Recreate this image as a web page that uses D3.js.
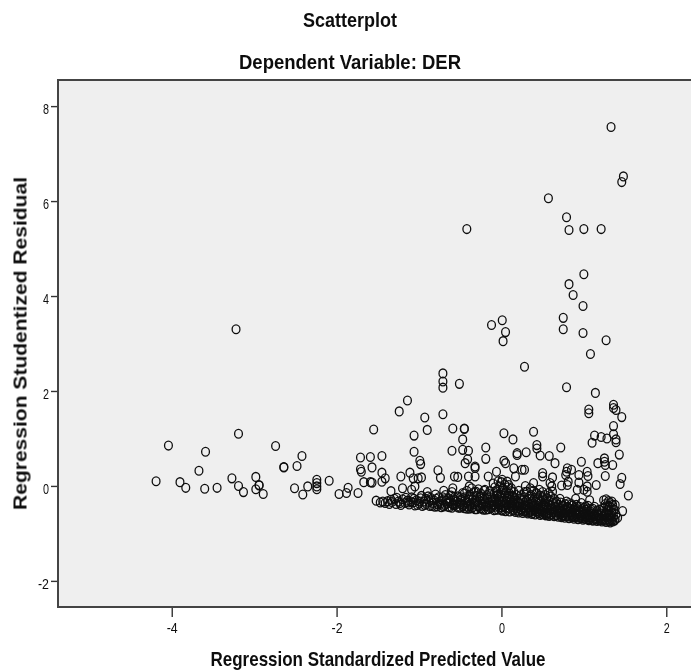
<!DOCTYPE html>
<html>
<head>
<meta charset="utf-8">
<script src="https://cdn.jsdelivr.net/npm/d3@7"></script>
<style>
  html, body { margin: 0; padding: 0; background: #fff; }
  svg { display: block; }
  text { font-family: "Liberation Sans", Arial, sans-serif; fill: #111; }
</style>
</head>
<body>
<div class="container"></div>
<script>
const width = 691;
const height = 672;

const chartTitle = 'Scatterplot';
const chartSubtitle = 'Dependent Variable: DER';
const xLabel = 'Regression Standardized Predicted Value';
const yLabel = 'Regression Studentized Residual';
const xTicks = [-4, -2, 0, 2];
const yTicks = [-2, 0, 2, 4, 6, 8];

// [predicted, residual]
const upperPoints = [
  [1.33,7.56],[1.48,6.52],[1.46,6.40],[.57,6.06],[.79,5.66],[.82,5.39],[1.00,5.41],[1.21,5.41],[-.42,5.41],
  [1.00,4.46],[.82,4.25],[.87,4.02],[.99,3.79],[.75,3.54],[.75,3.30],[.99,3.22],[1.27,3.07],[1.08,2.78],
  [.01,3.49],[-.12,3.39],[.05,3.24],[.02,3.05],[.28,2.51],[-.71,2.37],[-.71,2.20],[-.71,2.07],[-.51,2.15],
  [.79,2.08],[1.14,1.96],[-1.14,1.80],[-1.24,1.57],[-.93,1.44],[-.71,1.51],[1.06,1.61],[1.06,1.53],
  [1.36,1.71],[1.36,1.64],[1.39,1.60],[1.46,1.45]
];

const leftPoints = [
  [-3.22,3.30],[-3.19,1.10],[-4.04,.85],[-3.59,.72],[-2.74,.84],[-2.42,.63],[-2.48,.42],[-2.64,.40],[-2.64,.39],
  [-3.67,.32],[-4.19,.10],[-3.90,.08],[-3.83,-.04],[-3.60,-.06],[-3.45,-.04],[-3.27,.16],[-3.19,0],[-3.13,-.13],
  [-2.98,.19],[-2.94,.01],[-2.94,.02],[-2.98,-.07],[-2.89,-.17],[-2.51,-.05],[-2.41,-.18],[-2.35,-.01],
  [-2.24,.13],[-2.24,.06],[-2.24,-.01],[-2.24,-.07],[-2.09,.11],[-1.86,-.04],[-1.88,-.15],[-1.97,-.17],[-1.74,-.15]
];

const midPoints = [
  [-1.55,1.19],[-.90,1.18],[-1.06,1.06],[-.59,1.21],[-.45,1.21],[-.45,1.20],[-.47,.98],[.03,1.11],[.14,.98],[.39,1.14],
  [1.36,1.26],[1.36,1.09],[1.13,1.06],[1.21,1.03],[1.28,1.00],[1.39,.98],[1.10,.91],[1.39,.92],[1.43,.66],
  [1.17,.48],[1.25,.58],[1.25,.51],[1.26,.44],[1.35,.44],[1.26,.21],[1.46,.17],[1.44,.04],[1.15,.02],[1.54,-.20],[1.47,-.53],
  [1.04,.30],[1.05,.21],[.94,.23],[.94,.07],[.97,.51],[.80,.37],[.79,.30],[.78,.23],[.85,.34],[.81,.09],[.80,.02],[.73,.01],
  [.92,-.08],[1.00,-.08],[1.04,-.01],[1.04,-.12],[.72,.81],[.65,.48],[.58,.63],[.47,.64],[.43,.86],[.43,.79],[.30,.71],
  [.19,.69],[.19,.65],[-.19,.81],[-.19,.57],[.03,.53],[.05,.48],[.50,.27],[.50,.20],[.62,.18],[.59,.06],[.61,-.01],
  [.39,.06],[.29,0],[.21,-.10],[.15,-.23],[.25,.34],[.28,.34],[.17,.20],[.15,.37],[-.06,.30],[-.16,.20],
  [-1.71,.60],[-1.59,.61],[-1.45,.63],[-1.57,.39],[-1.71,.35],[-1.70,.30],[-1.45,.28],[-1.41,.16],[-1.45,.09],
  [-1.67,.08],[-1.59,.08],[-1.57,.07],[-1.22,.20],[-1.11,.28],[-1.07,.16],[-1.01,.16],[-.97,.18],[-.77,.33],[-.74,.17],
  [-.57,.20],[-.53,.19],[-.40,.20],[-.32,.41],[-.32,.20],[-.32,.38],[-.60,.74],[-1.06,.72],[-.47,.76],[-.40,.74],
  [-.99,.53],[-.98,.46],[-.44,.48],[-.41,.56],[-1.34,-.11],[-1.20,-.05],[-1.05,-.01],[-1.09,-.08],[-.90,-.13],
  [-.59,-.05],[-.70,-.10],[-.39,-.01]
];

const bandPoints = [
  [-1.52,-.31],[-1.47,-.35],[-1.44,-.33],[-1.41,-.36],[-1.38,-.32],[-1.36,-.38],[-1.33,-.34],[-1.30,-.27],[-1.28,-.38],
  [-1.25,-.33],[-1.22,-.40],[-1.20,-.28],[-1.17,-.36],[-1.14,-.31],[-1.12,-.39],[-1.09,-.24],[-1.07,-.35],[-1.05,-.41],
  [-1.03,-.30],[-1.00,-.37],[-.98,-.26],[-.96,-.42],[-.94,-.33],[-.91,-.38],[-.89,-.22],[-.87,-.42],[-.85,-.30],[-.83,-.36],
  [-.81,-.44],[-.79,-.27],[-.77,-.39],[-.75,-.33],[-.73,-.45],[-.71,-.24],[-.69,-.40],[-.67,-.31],[-.65,-.44],[-.63,-.36],
  [-.61,-.20],[-.60,-.46],[-.58,-.28],[-.56,-.40],[-.54,-.33],[-.52,-.46],[-.50,-.24],[-.49,-.38],[-.47,-.43],[-.45,-.16],
  [-.44,-.30],[-.42,-.48],[-.41,-.36],[-.39,-.22],[-.38,-.42],[-.36,-.47],[-.35,-.28],[-.33,-.38],[-.31,-.12],[-.30,-.49],
  [-.29,-.33],[-.27,-.43],[-.26,-.22],[-.24,-.48],[-.23,-.37],[-.21,-.29],[-.20,-.08],[-.19,-.50],[-.18,-.42],[-.16,-.34],
  [-.15,-.17],[-.13,-.47],[-.12,-.39],[-.11,-.26],[-.09,-.51],[-.08,-.03],[-.07,-.44],[-.06,-.31],[-.05,-.13],[-.04,-.50],
  [-.03,-.38],[-.02,-.22],[-.01,-.46],[0,.08],[.01,-.52],[.01,-.33],[.02,-.06],[.03,-.43],[.04,-.16],[.05,-.53],
  [.06,-.39],[.07,-.27],[.08,-.48],[.09,.02],[.10,-.54],[.11,-.35],[.12,-.11],[.13,-.44],[.14,-.52],[.15,-.30],
  [.16,-.40],[.17,-.55],[.18,-.19],[.19,-.47],[.20,-.34],[.21,-.56],[.22,-.43],[.23,-.26],[.24,-.52],[.25,-.38],
  [.26,-.57],[.27,-.46],[.28,-.13],[.29,-.53],[.30,-.31],[.31,-.42],[.32,-.58],[.33,-.49],[.34,-.22],[.35,-.55],
  [.36,-.37],[.37,-.59],[.38,-.45],[.39,-.29],[.40,-.52],[.41,-.60],[.42,-.40],[.43,-.16],[.44,-.56],[.45,-.48],
  [.46,-.33],[.47,-.61],[.48,-.43],[.49,-.54],[.50,-.24],[.51,-.60],[.52,-.50],[.53,-.38],[.54,-.62],[.55,-.46],
  [.56,-.57],[.57,-.30],[.58,-.63],[.59,-.52],[.60,-.42],[.61,-.60],[.62,-.12],[.63,-.49],[.64,-.64],[.65,-.55],
  [.66,-.36],[.67,-.61],[.68,-.46],[.69,-.65],[.70,-.52],[.71,-.27],[.72,-.58],[.73,-.66],[.74,-.42],[.75,-.62],
  [.76,-.50],[.77,-.67],[.78,-.56],[.79,-.33],[.80,-.63],[.81,-.46],[.82,-.68],[.83,-.54],[.84,-.60],[.85,-.38],
  [.86,-.66],[.87,-.50],[.88,-.69],[.89,-.57],[.90,-.27],[.91,-.63],[.92,-.44],[.93,-.70],[.94,-.54],[.95,-.61],
  [.96,-.67],[.97,-.36],[.98,-.49],[.99,-.71],[1.00,-.59],[1.01,-.65],[1.02,-.43],[1.03,-.70],[1.04,-.54],[1.05,-.62],
  [1.06,-.72],[1.07,-.30],[1.08,-.67],[1.09,-.50],[1.10,-.58],[1.11,-.73],[1.12,-.64],[1.13,-.44],[1.14,-.70],[1.15,-.55],
  [1.16,-.74],[1.17,-.61],[1.18,-.67],[1.19,-.50],[1.20,-.72],[1.21,-.58],[1.22,-.75],[1.23,-.64],[1.24,-.46],[1.25,-.70],
  [1.26,-.38],[1.27,-.76],[1.27,-.56],[1.28,-.66],[1.29,-.42],[1.30,-.73],[1.30,-.50],[1.31,-.61],[1.32,-.77],[1.32,-.36],
  [1.33,-.69],[1.33,-.46],[1.34,-.56],[1.35,-.75],[1.35,-.40],[1.36,-.64],[1.37,-.50],[1.38,-.71],[1.39,-.60],[1.41,-.67]
];

// the black core of the band, where single circles cannot be told apart
const corePoints = [
  [-.58,-.41],[-.56,-.30],[-.54,-.44],[-.53,-.22],[-.51,-.36],[-.50,-.46],[-.48,-.29],[-.47,-.15],[-.46,-.40],[-.45,-.47],
  [-.44,-.24],[-.43,-.35],[-.42,-.10],[-.41,-.44],[-.40,-.29],[-.39,-.48],[-.38,-.18],[-.37,-.38],[-.36,-.05],[-.35,-.45],
  [-.34,-.25],[-.33,-.13],[-.32,-.49],[-.31,-.34],[-.30,-.21],[-.29,-.42],[-.28,-.07],[-.27,-.30],[-.26,-.47],[-.25,-.16],
  [-.24,-.39],[-.23,-.26],[-.22,-.50],[-.21,-.10],[-.20,-.34],[-.19,-.44],[-.18,-.19],[-.17,-.28],[-.16,-.49],[-.15,-.38],
  [-.14,-.11],[-.13,-.24],[-.12,-.44],[-.11,-.33],[-.10,.05],[-.09,-.17],[-.09,-.40],[-.08,-.27],[-.07,-.50],[-.06,-.09],
  [-.05,-.36],[-.05,-.21],[-.04,.10],[-.03,-.45],[-.03,-.30],[-.02,-.01],[-.01,-.15],[-.01,-.38],[0,-.25],[0,-.50],
  [.01,.13],[.02,-.09],[.02,-.42],[.03,-.30],[.04,.03],[.04,-.20],[.05,-.46],[.06,-.13],[.06,-.34],[.07,.09],
  [.08,-.03],[.08,-.40],[.09,-.24],[.10,-.16],[.10,-.47],[.11,-.29],[.12,-.05],[.12,-.41],[.13,-.21],[.14,-.36],
  [.15,-.13],[.15,-.50],[.16,-.26],[.18,-.44],[.19,-.31],[.20,-.52],[.22,-.37],[.23,-.49],[.24,-.19],[.25,-.45],
  [.26,-.30],[.27,-.54],[.28,-.24],[.29,-.41],[.30,-.50],[.31,-.12],[.32,-.35],[.33,-.56],[.33,-.27],[.34,-.45],
  [.35,-.05],[.36,-.52],[.36,-.19],[.37,-.33],[.38,-.57],[.38,-.42],[.39,-.10],[.40,-.25],[.41,-.49],[.42,-.54],
  [.42,-.15],[.43,-.36],[.44,-.28],[.45,-.58],[.45,-.43],[.46,-.08],[.47,-.20],[.48,-.52],[.48,-.34],[.49,-.59],
  [.50,-.45],[.50,-.13],[.51,-.28],[.52,-.56],[.53,-.19],[.53,-.42],[.54,-.34],[.55,-.60],[.55,-.26],[.56,-.50],
  [.57,-.15],[.58,-.40],[.58,-.57],[.59,-.30],[.60,-.61],[.60,-.22],[.61,-.47],[.62,-.36],[.63,-.56],[.64,-.27],
  [.65,-.44],[.66,-.62],[.67,-.33],[.68,-.55],[.69,-.40],[.70,-.60],[.71,-.47],[.72,-.35],[.73,-.55],[.74,-.63],
  [.75,-.43],[.76,-.58],[.77,-.38],[.78,-.64],[.79,-.51],[.80,-.44],[.81,-.60],[.82,-.36],[.83,-.65],[.84,-.49],
  [.85,-.56],[.86,-.42],[.87,-.63],[.88,-.47],[.89,-.66],[.90,-.53],[.91,-.40],[.92,-.60],[.93,-.49],[.94,-.67],
  [.95,-.44],[.96,-.56],[.97,-.63],[.98,-.68],[.99,-.53],[1.00,-.46],[1.01,-.69],[1.02,-.58],[1.03,-.50],[1.04,-.66],
  [1.05,-.42],[1.06,-.60],[1.07,-.70],[1.08,-.54],[1.10,-.66],[1.11,-.48],[1.12,-.71],[1.13,-.60],[1.15,-.68],[1.16,-.52],
  [1.18,-.72],[1.19,-.62],[1.21,-.69],[1.22,-.53],[1.23,-.72],[1.24,-.30],[1.25,-.60],[1.26,-.73],[1.27,-.28],[1.28,-.50],
  [1.29,-.70],[1.30,-.32],[1.31,-.74],[1.31,-.43],[1.33,-.62],[1.34,-.72],[1.34,-.33],[1.36,-.50],[1.37,-.73],[1.38,-.40]
];

// left part of the band, thinner than the core
const shoulderPoints = [
  [-1.34,-.29],[-1.27,-.25],[-1.23,-.36],[-1.16,-.25],[-1.13,-.35],[-1.10,-.33],[-1.06,-.27],[-1.02,-.40],[-.99,-.33],[-.97,-.21],
  [-.93,-.40],[-.92,-.27],[-.88,-.34],[-.86,-.25],[-.84,-.42],[-.82,-.30],[-.80,-.18],[-.78,-.43],[-.76,-.24],[-.74,-.37],
  [-.72,-.30],[-.70,-.43],[-.68,-.19],[-.66,-.37],[-.64,-.26],[-.63,-.45],[-.62,-.32],[-.60,-.13],[-.59,-.38],[-.57,-.24]
];

const allPoints = [...upperPoints, ...leftPoints, ...midPoints, ...bandPoints, ...corePoints, ...shoulderPoints];

const plot = { left: 58, right: 691, top: 80, bottom: 607 };

const x = d3.scaleLinear().domain([-5.38, 2.3]).range([plot.left, plot.right]);
const y = d3.scaleLinear().domain([-2.55, 8.55]).range([plot.bottom, plot.top]);

const svg = d3.select('.container')
  .append('svg')
  .attr('width', width)
  .attr('height', height)
  .attr('viewBox', [0, 0, width, height]);

// the source is a slightly blurred screenshot
const defs = svg.append('defs');
defs.append('filter').attr('id', 'soft').append('feGaussianBlur').attr('stdDeviation', 0.45);
defs.append('filter').attr('id', 'softText').append('feGaussianBlur').attr('stdDeviation', 0.3);

svg.append('rect')
  .attr('x', plot.left)
  .attr('y', plot.top)
  .attr('width', plot.right - plot.left)
  .attr('height', plot.bottom - plot.top)
  .attr('fill', '#efefef');

const xAxis = svg.append('g')
  .attr('transform', `translate(0,${plot.bottom})`)
  .call(d3.axisBottom(x).tickValues(xTicks).tickSize(10).tickPadding(0).tickFormat(d => String(d)));

const yAxis = svg.append('g')
  .attr('transform', `translate(${plot.left},0)`)
  .call(d3.axisLeft(y).tickValues(yTicks).tickSize(7).tickPadding(0).tickFormat(d => String(d)));

// tick labels are squeezed sideways in the source
xAxis.selectAll('.tick text')
  .attr('y', 25.5)
  .attr('dy', 0)
  .attr('font-size', 14.5)
  .attr('fill', '#222')
  .attr('textLength', d => d < 0 ? 11 : 6)
  .attr('lengthAdjust', 'spacingAndGlyphs')
  .attr('filter', 'url(#softText)');

yAxis.selectAll('.tick text')
  .attr('x', -9)
  .attr('dy', '0.48em')
  .attr('font-size', 15)
  .attr('fill', '#222')
  .attr('textLength', d => d < 0 ? 11 : 6)
  .attr('lengthAdjust', 'spacingAndGlyphs')
  .attr('filter', 'url(#softText)');

[xAxis, yAxis].forEach(a => {
  a.selectAll('.tick line').attr('stroke', '#333').attr('stroke-width', 1.4);
  a.select('.domain').remove();
});

// frame: top, left and bottom only, the plot runs off the right edge
svg.append('path')
  .attr('d', d3.line()([[plot.right, plot.top], [plot.left, plot.top], [plot.left, plot.bottom], [plot.right, plot.bottom]]))
  .attr('fill', 'none')
  .attr('stroke', '#444')
  .attr('stroke-width', 2);

svg.append('g')
  .attr('filter', 'url(#soft)')
  .selectAll('ellipse')
  .data(allPoints)
  .join('ellipse')
  .attr('cx', d => x(d[0]))
  .attr('cy', d => y(d[1]))
  .attr('rx', 3.9)
  .attr('ry', 4.4)
  .attr('fill', 'none')
  .attr('stroke', '#111')
  .attr('stroke-width', 1.3);

const title = (txt, cx, py, size, len) => svg.append('text')
  .attr('x', cx)
  .attr('y', py)
  .attr('text-anchor', 'middle')
  .attr('font-size', size)
  .attr('font-weight', 'bold')
  .attr('textLength', len)
  .attr('lengthAdjust', 'spacingAndGlyphs')
  .attr('filter', 'url(#softText)')
  .text(txt);

title(chartTitle, 350, 27, 20.5, 94);
title(chartSubtitle, 350, 69, 20.5, 222);
title(xLabel, 378, 666, 20.5, 335);

svg.append('text')
  .attr('transform', 'translate(26.5,343.5) rotate(-90)')
  .attr('text-anchor', 'middle')
  .attr('font-size', 18)
  .attr('font-weight', 'bold')
  .attr('textLength', 333)
  .attr('lengthAdjust', 'spacingAndGlyphs')
  .attr('filter', 'url(#softText)')
  .text(yLabel);
</script>
</body>
</html>
